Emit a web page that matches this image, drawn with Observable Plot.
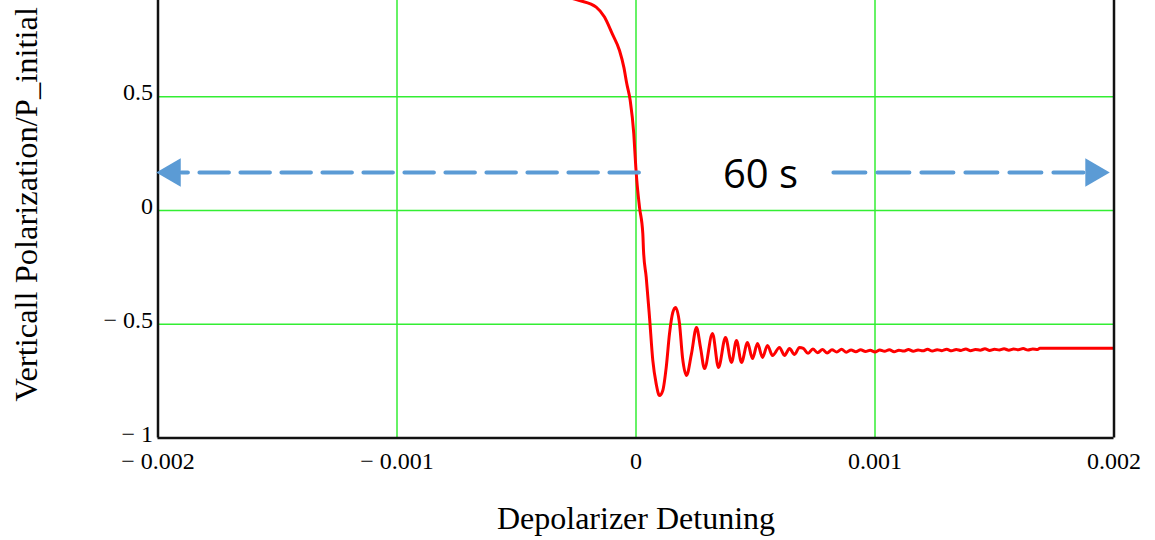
<!DOCTYPE html>
<html><head><meta charset="utf-8">
<script src="https://cdn.jsdelivr.net/npm/d3@7"></script>
<script src="https://cdn.jsdelivr.net/npm/@observablehq/plot@0.6"></script>
<style>html,body{margin:0;padding:0;background:#fff;} #chart{width:1155px;height:540px;overflow:hidden;}</style>
</head><body><div id="chart"></div>
<script>
const detuning = [
  -0.0020, -0.0015, -0.0010, -0.0007, -0.0005, -0.0004, -0.0003,
  -0.0002364, -0.0001665, -0.0001318, -0.0000996, -0.0000690, -0.0000510, -0.0000385, -0.0000243,
  -0.0000092, -0.0000008, 0.0000033, 0.0000146, 0.0000285, 0.0000314, 0.0000427, 0.0000565,
  0.0000703, 0.0000845, 0.0000983, 0.0001121, 0.0001264, 0.0001402, 0.0001540, 0.0001653,
  0.0001820, 0.0001946, 0.0002113, 0.0002322, 0.0002531, 0.0002699, 0.0002866, 0.0003201,
  0.0003452, 0.0003745, 0.0003996, 0.0004205, 0.0004414, 0.0004665, 0.0004874, 0.0005084,
  0.0005293, 0.0005502, 0.0005711, 0.0006004, 0.0006213, 0.0006423, 0.0006632, 0.0006841,
  0.00070, 0.00072, 0.00074, 0.00076, 0.00078, 0.00080, 0.00082, 0.00084, 0.00086, 0.00088,
  0.00090, 0.00092, 0.00094, 0.00096, 0.00098, 0.00100, 0.00102, 0.00104, 0.00106, 0.00108,
  0.00110, 0.00112, 0.00114, 0.00116, 0.00118, 0.00120, 0.00122, 0.00124, 0.00126, 0.00128,
  0.00130, 0.00132, 0.00134, 0.00136, 0.00138, 0.00140, 0.00142, 0.00144, 0.00146, 0.00148,
  0.00150, 0.00152, 0.00154, 0.00156, 0.00158, 0.00160, 0.00162, 0.00164, 0.00166, 0.00168,
  0.00169, 0.00200
];
const polarization = [
  0.995, 0.990, 0.983, 0.975, 0.965, 0.955, 0.940,
  0.923, 0.894, 0.850, 0.777, 0.703, 0.630, 0.557, 0.484,
  0.337, 0.190, 0.132, 0.015, -0.102, -0.176, -0.293, -0.469,
  -0.659, -0.762, -0.813, -0.791, -0.690, -0.541, -0.448, -0.426,
  -0.497, -0.646, -0.725, -0.629, -0.514, -0.602, -0.695, -0.541,
  -0.690, -0.558, -0.668, -0.571, -0.668, -0.580, -0.651, -0.585,
  -0.646, -0.593, -0.637, -0.602, -0.637, -0.607, -0.633, -0.602,
  -0.606, -0.628, -0.609, -0.625, -0.611, -0.626, -0.612, -0.622, -0.610, -0.623,
  -0.613, -0.621, -0.612, -0.620, -0.614, -0.622, -0.613, -0.619, -0.612, -0.621,
  -0.614, -0.618, -0.611, -0.619, -0.613, -0.617, -0.610, -0.618, -0.612, -0.616,
  -0.610, -0.617, -0.611, -0.615, -0.609, -0.616, -0.611, -0.614, -0.608, -0.615,
  -0.610, -0.613, -0.608, -0.614, -0.609, -0.612, -0.607, -0.613, -0.609, -0.611,
  -0.605, -0.605
];
const xTicks = [-0.002, -0.001, 0, 0.001, 0.002];
const yTicks = [-1, -0.5, 0, 0.5];
const xGrid = [-0.001, 0, 0.001];
const yGrid = [-0.5, 0, 0.5];
const xFrame = [-0.002, 0.002];
const yFrame = [-1];
const xLabel = "Depolarizer Detuning";
const yLabel = "Verticall Polarization/P_initial";
const spanLabel = "60 s";
const spanY = 0.167;
const spanLeft = [-0.001902, 0.0000146];
const spanRight = [0.000826, 0.001872];
const spanTips = [-0.002006, 0.001981];
const spanLabelX = 0.000521;

const curve = detuning.map((x, i) => ({x, y: polarization[i]}));
const fmt = d => d < 0 ? "\u2212 " + Math.abs(d) : String(d);
const serif = '"Liberation Serif","Times New Roman",serif';
const blue = "#5b9bd5";
const green = "#33ee33";

const chart = Plot.plot({
  width: 1155, height: 540,
  marginLeft: 157.5, marginRight: 41.5, marginTop: 0, marginBottom: 102.5,
  x: {domain: [-0.002, 0.002]},
  y: {domain: [-1, 0.923]},
  style: {fontFamily: serif, fontSize: "24px", color: "#000", background: "#fff", overflow: "visible"},
  marks: [
    Plot.ruleX(xGrid, {stroke: green, strokeWidth: 1.5}),
    Plot.ruleY(yGrid, {stroke: green, strokeWidth: 1.5}),
    Plot.line(curve, {x: "x", y: "y", stroke: "#ff0000", strokeWidth: 3, curve: "monotone-x", clip: true}),
    Plot.ruleX(xFrame, {stroke: "#111", strokeWidth: 2.5}),
    Plot.ruleY(yFrame, {stroke: "#111", strokeWidth: 2.5}),
    Plot.axisX(xTicks, {tickSize: 0, tickPadding: 14, tickFormat: fmt, label: null}),
    Plot.axisY(yTicks, {tickSize: 0, tickPadding: 5, tickFormat: fmt, label: null, dy: -4}),
    Plot.line(spanLeft.map(x => ({x, y: spanY})), {x: "x", y: "y", stroke: blue, strokeWidth: 4, strokeDasharray: "29.5,11.5", strokeDashoffset: 23}),
    Plot.line(spanRight.map(x => ({x, y: spanY})), {x: "x", y: "y", stroke: blue, strokeWidth: 4, strokeDasharray: "32,12"}),
    Plot.dot([{x: spanTips[0], y: spanY}], {x: "x", y: "y", symbol: "triangle", r: 10.5, rotate: -90, fill: blue, stroke: "none", dx: 16}),
    Plot.dot([{x: spanTips[1], y: spanY}], {x: "x", y: "y", symbol: "triangle", r: 10.5, rotate: 90, fill: blue, stroke: "none", dx: -16}),
    Plot.text([{x: spanLabelX, y: spanY, t: spanLabel}], {x: "x", y: "y", text: "t", fontFamily: '"Open Sans", sans-serif', fontSize: 40, fill: "#000", dy: 3}),
    Plot.text([xLabel], {text: d => d, frameAnchor: "bottom", textAnchor: "middle", lineAnchor: "middle", dy: 81, fontSize: 32, fill: "#000"}),
    Plot.text([yLabel], {text: d => d, frameAnchor: "left", textAnchor: "middle", lineAnchor: "middle", rotate: -90, dx: -131, dy: -15, fontSize: 32.5, fill: "#000"})
  ]
});
document.getElementById("chart").appendChild(chart);
</script>
</body></html>
